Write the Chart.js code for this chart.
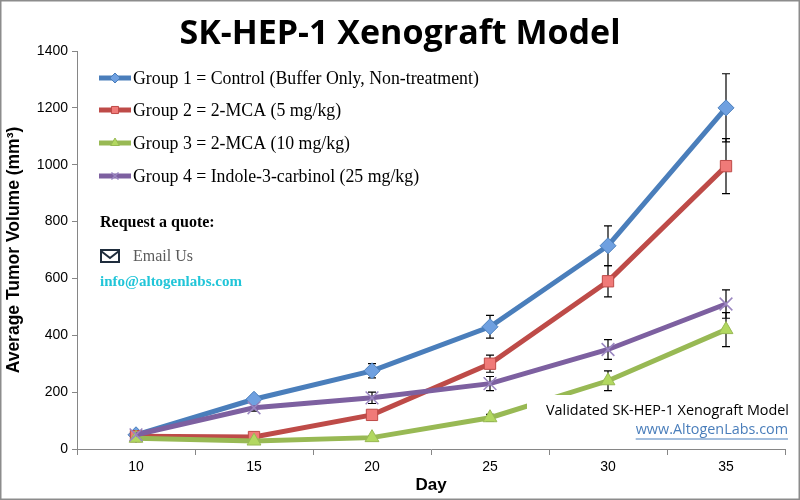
<!DOCTYPE html>
<html>
<head>
<meta charset="utf-8">
<script src="https://cdn.jsdelivr.net/npm/chart.js@4"></script>
<style>
  html, body { margin: 0; padding: 0; background: #fff; }
  #wrap { width: 800px; height: 500px; }
</style>
</head>
<body>
<div id="wrap"><canvas id="myChart" width="800" height="500"></canvas></div>
<script>
const days = ['10', '15', '20', '25', '30', '35'];

const group1 = [50, 175, 275, 430, 715, 1200];
const group2 = [45, 42, 120, 300, 590, 995];
const group3 = [38, 28, 40, 110, 240, 420];
const group4 = [50, 145, 180, 230, 350, 510];

const group1Err = [3, 12, 25, 40, 70, 120];
const group2Err = [3, 6, 12, 30, 55, 97];
const group3Err = [3, 4, 6, 12, 35, 60];
const group4Err = [3, 12, 20, 25, 35, 50];

const yTicks = [0, 200, 400, 600, 800, 1000, 1200, 1400];

const labels = [
    'Group 1 = Control (Buffer Only, Non-treatment)',
    'Group 2 = 2-MCA (5 mg/kg)',
    'Group 3 = 2-MCA (10 mg/kg)',
    'Group 4 = Indole-3-carbinol (25 mg/kg)'
];

// error bars under the lines and markers, drawn through the y scale
const errorBars = {
    id: 'errorBars',
    beforeDatasetsDraw(chart) {
        const c = chart.ctx;
        const y = chart.scales.y;
        c.save();
        c.strokeStyle = '#000';
        c.lineWidth = 1.2;
        chart.data.datasets.forEach((ds, i) => {
            const meta = chart.getDatasetMeta(i);
            meta.data.forEach((pt, j) => {
                const e = ds.errors[j];
                const top = y.getPixelForValue(ds.data[j] + e);
                const bot = y.getPixelForValue(ds.data[j] - e);
                c.beginPath();
                c.moveTo(pt.x, top); c.lineTo(pt.x, bot);
                c.moveTo(pt.x - 4, top); c.lineTo(pt.x + 4, top);
                c.moveTo(pt.x - 4, bot); c.lineTo(pt.x + 4, bot);
                c.stroke();
            });
        });
        c.restore();
    }
};

// title, legend, notes and border
const decor = {
    id: 'decor',
    afterDraw(chart) {
        const c = chart.ctx;
        c.save();
        // title
        c.fillStyle = '#000';
        c.font = 'bold 34px "Open Sans"';
        c.textAlign = 'center';
        c.textBaseline = 'middle';
        c.fillText('SK-HEP-1 Xenograft Model', 400, 34);

        // legend
        c.textAlign = 'left';
        c.font = '17.8px "Liberation Serif"';
        const rows = [78, 110, 143, 176];
        chart.data.datasets.forEach((ds, i) => {
            const yy = rows[i];
            c.strokeStyle = ds.borderColor;
            c.lineWidth = 5;
            c.beginPath(); c.moveTo(99, yy); c.lineTo(131, yy); c.stroke();
            c.fillStyle = ds.pointBackgroundColor;
            c.strokeStyle = ds.pointBorderColor;
            c.lineWidth = ds.pointStyle === 'crossRot' ? 1.5 : 1;
            Chart.helpers.drawPoint(c, {
                pointStyle: ds.pointStyle, radius: 5, rotation: 0, borderWidth: 1
            }, 115, yy);
            c.fillStyle = '#000';
            c.fillText(ds.label, 133, yy + 1);
        });

        // request a quote
        c.font = 'bold 16px "Liberation Serif"';
        c.fillText('Request a quote:', 100, 223);
        c.strokeStyle = '#1f2d3d';
        c.lineWidth = 2;
        c.strokeRect(101, 250, 18, 12);
        c.beginPath(); c.moveTo(101, 251); c.lineTo(110, 258); c.lineTo(119, 251); c.stroke();
        c.fillStyle = '#5a5a5a';
        c.font = '16px "Liberation Serif"';
        c.fillText('Email Us', 133, 257);
        c.fillStyle = '#21c5d8';
        c.font = 'bold 15px "Liberation Serif"';
        c.fillText('info@altogenlabs.com', 100, 282);

        // note box
        c.fillStyle = '#fff';
        c.fillRect(527, 395, 262, 50);
        c.textAlign = 'right';
        c.fillStyle = '#000';
        c.font = '14.4px "Open Sans"';
        c.fillText('Validated SK-HEP-1 Xenograft Model', 789, 411);
        c.fillStyle = '#4a7ebb';
        c.fillText('www.AltogenLabs.com', 788, 430);
        const w = c.measureText('www.AltogenLabs.com').width;
        c.strokeStyle = '#4a7ebb';
        c.lineWidth = 1;
        c.beginPath(); c.moveTo(788 - w, 439); c.lineTo(788, 439); c.stroke();

        // outer border
        c.strokeStyle = '#8c8c8c';
        c.lineWidth = 1.5;
        c.strokeRect(0.75, 0.75, 798.5, 498.5);
        c.restore();
    }
};

function series(label, data, errors, color, fill, style, order) {
    return {
        label: label,
        data: data,
        errors: errors,
        order: order,
        borderColor: color,
        borderWidth: 5,
        pointStyle: style,
        pointRadius: style === 'crossRot' ? 9 : 8,
        pointBackgroundColor: fill,
        pointBorderColor: style === 'crossRot' ? '#9a86c0' : color,
        pointBorderWidth: style === 'crossRot' ? 1.5 : 1,
        tension: 0,
        fill: false
    };
}

new Chart(document.getElementById('myChart'), {
    type: 'line',
    data: {
        labels: days,
        datasets: [
            series(labels[0], group1, group1Err, '#4a7ebb', '#6fa0e0', 'rectRot', 4),
            series(labels[1], group2, group2Err, '#be4b48', '#f07a78', 'rect', 3),
            series(labels[2], group3, group3Err, '#98b954', '#b2d860', 'triangle', 2),
            series(labels[3], group4, group4Err, '#7d60a0', '#7d60a0', 'crossRot', 1)
        ]
    },
    options: {
        responsive: false,
        animation: false,
        layout: { padding: { top: 51, right: 15, left: 0, bottom: 0 } },
        plugins: {
            legend: { display: false },
            tooltip: { enabled: false }
        },
        scales: {
            x: {
                offset: true,
                grid: {
                    offset: true,
                    drawOnChartArea: false,
                    drawTicks: true,
                    tickLength: 6,
                    color: '#868686'
                },
                border: { color: '#868686', width: 1 },
                ticks: { color: '#000', font: { family: 'Liberation Sans', size: 14 }, padding: 4 },
                title: {
                    display: true,
                    text: 'Day',
                    color: '#000',
                    font: { family: 'Liberation Sans', size: 17, weight: 'bold' },
                    padding: { top: 0 }
                },
                afterFit(scale) { scale.height = 51; }
            },
            y: {
                min: 0,
                max: 1400,
                afterBuildTicks(scale) { scale.ticks = yTicks.map(v => ({ value: v })); },
                grid: {
                    drawOnChartArea: false,
                    drawTicks: true,
                    tickLength: 5,
                    color: '#868686'
                },
                border: { color: '#868686', width: 1 },
                ticks: {
                    color: '#000',
                    font: { family: 'Liberation Sans', size: 14 },
                    padding: 4,
                    callback: v => String(v)
                },
                title: {
                    display: true,
                    text: 'Average Tumor Volume (mm³)',
                    color: '#000',
                    font: { family: 'Liberation Sans', size: 17.5, weight: 'bold' },
                    padding: { bottom: 2 }
                },
                afterFit(scale) { scale.width = 77; }
            }
        }
    },
    plugins: [errorBars, decor]
});
</script>
</body>
</html>
